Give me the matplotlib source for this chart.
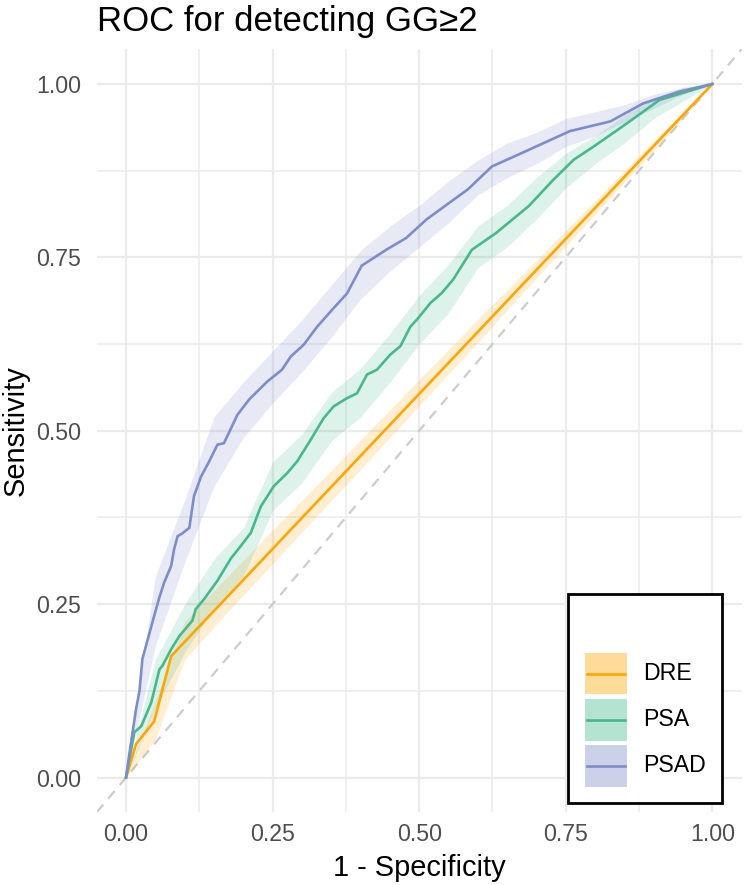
import numpy as np
import matplotlib as mpl
mpl.rcParams.update({'font.family': ['Liberation Sans', 'DejaVu Sans']})
from matplotlib import pyplot as plt
from matplotlib.patches import Rectangle
from matplotlib.lines import Line2D

W, H = 744, 885

# ROC curves (x = 1 - specificity, y = sensitivity)
dre_x = [0.0, 0.017, 0.048, 0.077, 1.0]
dre_y = [0.0, 0.048, 0.081, 0.175, 1.0]

psa_x = [0.0, 0.014, 0.026, 0.043, 0.048, 0.057, 0.062, 0.077, 0.091, 0.113, 0.119,
         0.133, 0.156, 0.179, 0.195, 0.213, 0.230, 0.252, 0.275, 0.292, 0.315, 0.337,
         0.354, 0.377, 0.394, 0.411, 0.428, 0.451, 0.468, 0.485, 0.496, 0.519, 0.539,
         0.558, 0.590, 0.631, 0.687, 0.729, 0.764, 0.798, 0.854, 0.910, 1.0]
psa_y = [0.0, 0.065, 0.074, 0.108, 0.125, 0.156, 0.161, 0.185, 0.204, 0.226, 0.243,
         0.257, 0.284, 0.316, 0.333, 0.353, 0.391, 0.420, 0.439, 0.456, 0.487, 0.518,
         0.535, 0.547, 0.554, 0.581, 0.588, 0.610, 0.622, 0.650, 0.660, 0.684, 0.699,
         0.718, 0.761, 0.785, 0.824, 0.862, 0.891, 0.910, 0.943, 0.977, 1.0]

psad_x = [0.0, 0.006, 0.017, 0.023, 0.028, 0.037, 0.048, 0.057, 0.065, 0.077, 0.082,
          0.088, 0.096, 0.108, 0.116, 0.128, 0.142, 0.156, 0.167, 0.190, 0.210, 0.241,
          0.266, 0.281, 0.303, 0.326, 0.349, 0.377, 0.402, 0.444, 0.478, 0.513, 0.583,
          0.624, 0.687, 0.757, 0.826, 0.882, 0.944, 1.0]
psad_y = [0.0, 0.036, 0.098, 0.125, 0.171, 0.199, 0.233, 0.260, 0.281, 0.305, 0.329,
          0.348, 0.352, 0.360, 0.406, 0.434, 0.456, 0.480, 0.482, 0.523, 0.545, 0.571,
          0.588, 0.607, 0.624, 0.650, 0.672, 0.698, 0.738, 0.761, 0.778, 0.805, 0.848,
          0.881, 0.905, 0.932, 0.946, 0.972, 0.989, 1.0]

# confidence bands on a coarse grid
band_x = [0.0, 0.05, 0.1, 0.15, 0.2, 0.25, 0.3, 0.35, 0.4, 0.45, 0.5,
          0.55, 0.6, 0.65, 0.7, 0.75, 0.8, 0.85, 0.9, 0.95, 1.0]
dre_lo = [0.0, 0.055, 0.17, 0.217, 0.263, 0.308, 0.354, 0.399, 0.444, 0.49, 0.536,
          0.582, 0.627, 0.674, 0.72, 0.766, 0.812, 0.858, 0.904, 0.951, 1.0]
dre_hi = [0.0, 0.11, 0.225, 0.27, 0.313, 0.357, 0.40, 0.443, 0.487, 0.530, 0.574,
          0.617, 0.661, 0.703, 0.746, 0.789, 0.832, 0.875, 0.918, 0.96, 1.0]
psa_lo = [0.0, 0.10, 0.18, 0.245, 0.29, 0.385, 0.425, 0.485, 0.52, 0.57, 0.625,
          0.67, 0.735, 0.765, 0.805, 0.85, 0.885, 0.915, 0.95, 0.975, 1.0]
psa_hi = [0.0, 0.17, 0.25, 0.315, 0.36, 0.455, 0.495, 0.555, 0.59, 0.64, 0.695,
          0.74, 0.795, 0.825, 0.865, 0.90, 0.925, 0.955, 0.98, 0.995, 1.0]
psad_lo = [0.0, 0.19, 0.31, 0.42, 0.49, 0.54, 0.585, 0.635, 0.69, 0.73, 0.765,
           0.80, 0.84, 0.865, 0.885, 0.91, 0.925, 0.945, 0.965, 0.985, 1.0]
psad_hi = [0.0, 0.29, 0.40, 0.52, 0.57, 0.615, 0.66, 0.71, 0.76, 0.795, 0.825,
           0.86, 0.89, 0.915, 0.93, 0.95, 0.96, 0.97, 0.985, 0.995, 1.0]

labels = ['DRE', 'PSA', 'PSAD']
colors = ['#FFA500', '#45B98C', '#7C8DCA']
tick_vals = [0.0, 0.25, 0.5, 0.75, 1.0]


def fx(px):
    return px / W


def fy(py):
    return (H - py) / H


fig = plt.figure(figsize=(W / 100, H / 100), dpi=100)
ax = fig.add_axes([fx(96.7), fy(812.2), (741.6 - 96.7) / W, (812.2 - 49.3) / H])
ax.set_xlim(-0.05, 1.05)
ax.set_ylim(-0.05, 1.05)
for s in ax.spines.values():
    s.set_visible(False)

ax.set_xticks(tick_vals)
ax.set_yticks(tick_vals)
ax.set_xticks(np.arange(0.125, 1.0, 0.25), minor=True)
ax.set_yticks(np.arange(0.125, 1.0, 0.25), minor=True)
ax.set_xticklabels([f"{v:.2f}" for v in tick_vals])
ax.set_yticklabels([f"{v:.2f}" for v in tick_vals])
ax.grid(which='major', color='#EBEBEB', lw=1.6)
ax.grid(which='minor', color='#EBEBEB', lw=1.1)
ax.set_axisbelow(True)
ax.tick_params(which='both', length=0, labelsize=16.7, labelcolor='#4D4D4D')
ax.tick_params(axis='x', pad=8)
ax.tick_params(axis='y', pad=11)

ax.axline((0, 0), slope=1, color='#CCCCCC', lw=1.6, ls=(0, (4.5, 3.5)), zorder=1)

bands = [(dre_lo, dre_hi), (psa_lo, psa_hi), (psad_lo, psad_hi)]
curves = [(dre_x, dre_y), (psa_x, psa_y), (psad_x, psad_y)]
for (lo, hi), c in zip(bands, colors):
    ax.fill_between(band_x, lo, hi, color=c, alpha=0.18, lw=0, zorder=2)
for (x, y), c in zip(curves, colors):
    ax.plot(x, y, color=c, lw=1.9, zorder=3)

fig.text(fx(96.7), fy(31), "ROC for detecting GG\u22652", fontsize=25, va='baseline')
fig.text(fx(419), fy(876), "1 - Specificity", fontsize=20.9, ha='center', va='baseline')
fig.text(fx(16), fy(431), "Sensitivity", fontsize=20.9, rotation=90, ha='center', va='center')

# legend box drawn by hand
fig.patches.append(Rectangle((fx(567.7), fy(803)), (722 - 567.7) / W, (803 - 594.3) / H,
                             transform=fig.transFigure, facecolor='white',
                             edgecolor='black', lw=2.0, zorder=5))
for i, (lab, c) in enumerate(zip(labels, colors)):
    top = 652.7 + i * 46.2
    fig.patches.append(Rectangle((fx(585), fy(top + 41.7)), 41.7 / W, 41.7 / H,
                                 transform=fig.transFigure, facecolor=c, alpha=0.4,
                                 lw=0, zorder=6))
    cy = fy(top + 20.85)
    fig.lines.append(Line2D([fx(587), fx(625)], [cy, cy], transform=fig.transFigure,
                            color=c, lw=1.9, zorder=7))
    fig.text(fx(643.3), cy, lab, fontsize=16.7, va='center', zorder=8)

fig.savefig('out.png', dpi=100)
